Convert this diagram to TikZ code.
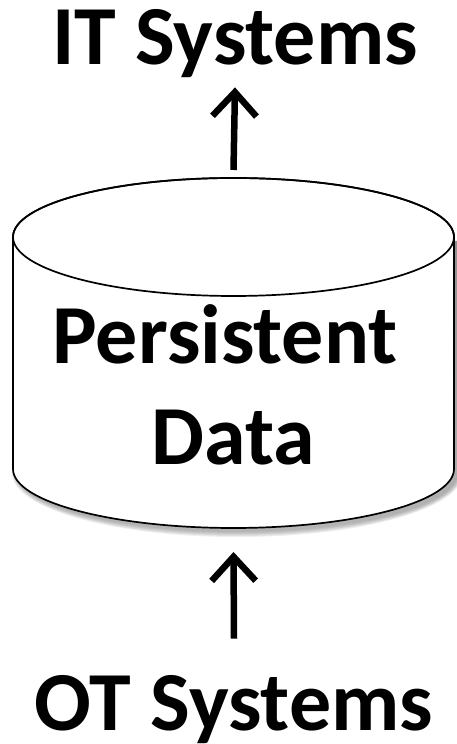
\documentclass[tikz,border=0pt]{standalone}
\usepackage{fontspec}
\setmainfont{Carlito}
\usepackage{xcolor}
\usepackage{tikz}
\usetikzlibrary{calc,arrows.meta}
\definecolor{ink}{HTML}{000000}
\definecolor{shade}{HTML}{5A5A5A}
\tikzset{
  line/.style={draw=ink, line width=1.7pt},
  flow/.style={draw=ink, line width=6.5pt, -{Straight Barb[length=24pt, width=44pt]}},
  lbl/.style={text=ink, font=\fontsize{84}{101}\selectfont\bfseries, inner sep=0pt}
}

\begin{document}
\begin{tikzpicture}[x=1pt, y=1pt]
  \useasboundingbox (0,0) rectangle (457,744);
  \coordinate (C) at (233.5,507);   % centre of top ellipse
  \coordinate (D) at (233.5,275);   % centre of bottom ellipse
  \coordinate (dbtop) at (233.5,574);
  \coordinate (dbbot) at (233.5,192);

  % soft shadow
  \foreach \w in {0,...,5}
    \fill[shade, opacity=0.07, shift={(4,-4)}]
      (13-\w,507) -- (13-\w,275)
      arc[start angle=180, end angle=360, x radius=220.5+\w, y radius=59+\w]
      -- (454+\w,507) -- cycle;

  % cylinder
  \filldraw[line, fill=white] (13,507) -- (13,275)
    arc[start angle=180, end angle=360, x radius=220.5, y radius=59]
    -- (454,507)
    arc[start angle=0, end angle=180, x radius=220.5, y radius=59];
  \draw[line] (C) ellipse[x radius=220.5, y radius=59];

  \node[lbl, align=center] (db) at (233.5,359) {Persistent\hspace*{0.2em}\\Data};
  \node[lbl, anchor=base] (it) at (235,679) {IT Systems};
  \node[lbl, anchor=base] (ot) at (234,13) {OT Systems};

  \draw[flow] (dbtop) -- ([yshift=-9pt]it.south);
  \draw[flow] ([yshift=37pt]ot.north) -- (dbbot);
\end{tikzpicture}
\end{document}
